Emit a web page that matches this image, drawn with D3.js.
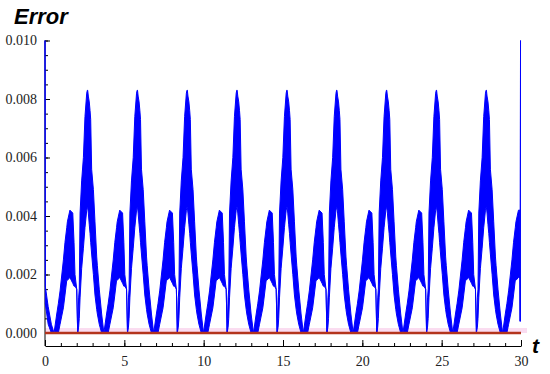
<!DOCTYPE html>
<html>
<head>
<meta charset="utf-8">
<script src="https://cdn.jsdelivr.net/npm/d3@7"></script>
<style>
    body { margin: 0; background: #fff; }
    svg { display: block; }
    .tick-label { font-family: 'Liberation Serif', serif; font-size: 14px; fill: #222; }
</style>
</head>
<body>
<svg width="550" height="374"></svg>
<script>
// Times where the error touches zero (bottom of each arch)
const cycleStart = [0.57, 3.71, 6.85, 9.99, 13.14, 16.28, 19.42, 22.56, 25.70, 28.84];

// Shape of one arch (small hump, dip, big hump), offsets from cycle start
const profileDt = [0, 0.17, 0.27, 0.38, 0.59, 0.69, 0.80, 0.84, 1.00, 1.18, 1.26, 1.32, 1.43, 1.49,
    1.55, 1.59, 1.64, 1.74, 1.85, 1.95, 2.06, 2.10, 2.12, 2.16, 2.22, 2.27, 2.31, 2.37, 2.48, 2.58,
    2.69, 2.73, 2.85, 3.00];
const profileHi = [0, 0.00065, 0.0010, 0.00144, 0.0025, 0.0031, 0.0036, 0.0038, 0.0042, 0.0041,
    0.0031, 0.0020, 0.0015, 0, 0.0012, 0.0015, 0.0041, 0.0052, 0.0060, 0.0074, 0.0082, 0.0083,
    0.0083, 0.0081, 0.0079, 0.0076, 0.0073, 0.0056, 0.0049, 0.0038, 0.0026, 0.0023, 0.0015, 0.00065];
const profileLo = [0, 0, 0, 0.0003, 0.00086, 0.0013, 0.0018, 0.0018, 0.0019, 0.0017,
    0.0016, 0.0016, 0.0015, 0, 0.0002, 0.0005, 0.0012, 0.0022, 0.0029, 0.0036, 0.0042, 0.0043,
    0.0043, 0.0041, 0.0037, 0.0034, 0.0031, 0.0027, 0.0020, 0.0013, 0.0008, 0.00065, 0.0003, 0];

// Start and end of the record
const headT = [0, 0.02, 0.2, 0.4];
const headHi = [0.0100, 0.0016, 0.0009, 0.0003];
const headLo = [0.0100, 0.0010, 0.0003, 0];
const tailT = [29.93, 29.95, 29.97];
const tailHi = [0.0042, 0.0004, 0.0100];
const tailLo = [0.0019, 0.0004, 0.0100];

const xMajor = [0, 5, 10, 15, 20, 25, 30];
const xMinor = d3.range(0, 31, 1);
const yMajor = [0, 0.002, 0.004, 0.006, 0.008, 0.010];
const yMinor = d3.range(0, 0.01001, 0.0005);

const svg = d3.select('svg');

const x = d3.scaleLinear().domain([0, 30]).range([45, 521]);
const y = d3.scaleLinear().domain([0, 0.010]).range([333, 40.5]);

// Assemble the band: upper and lower edge of the fast oscillation
let band = [];
headT.forEach((t, i) => band.push({t: t, hi: headHi[i], lo: headLo[i]}));
cycleStart.forEach(t0 =>
{
    profileDt.forEach((dt, j) =>
    {
        if (t0 + dt < tailT[0])
            band.push({t: t0 + dt, hi: profileHi[j], lo: profileLo[j]});
    });
});
tailT.forEach((t, i) => band.push({t: t, hi: tailHi[i], lo: tailLo[i]}));

// Reference line at zero
svg.append('rect')
    .attr('x', x(0))
    .attr('y', y(0) - 5)
    .attr('width', x(30) - x(0) + 6)
    .attr('height', 5)
    .attr('fill', '#fadcf0');

// Axes
const xAxisY = 346;
svg.append('g')
    .attr('transform', 'translate(0,' + xAxisY + ')')
    .call(d3.axisBottom(x).tickValues(xMinor).tickSize(-3).tickSizeOuter(0).tickFormat(''))
    .call(g => g.select('.domain').remove());

svg.append('g')
    .attr('transform', 'translate(0,' + xAxisY + ')')
    .call(d3.axisBottom(x).tickValues(xMajor).tickSize(-6).tickSizeOuter(0).tickPadding(10)
        .tickFormat(d3.format('d')))
    .call(g => g.selectAll('text').attr('class', 'tick-label').attr('font-size', null)
        .attr('font-family', null))
    .call(g => g.select('.domain').attr('stroke', '#000'));

svg.append('g')
    .attr('transform', 'translate(' + x(0) + ',0)')
    .call(d3.axisLeft(y).tickValues(yMinor).tickSize(-3).tickSizeOuter(0).tickFormat(''))
    .call(g => g.select('.domain').remove());

svg.append('g')
    .attr('transform', 'translate(' + x(0) + ',0)')
    .call(d3.axisLeft(y).tickValues(yMajor).tickSize(-5).tickSizeOuter(0).tickPadding(8)
        .tickFormat(d3.format('.3f')))
    .call(g => g.selectAll('text').attr('class', 'tick-label').attr('font-size', null)
        .attr('font-family', null))
    .call(g => g.select('.domain').attr('d', 'M0,' + xAxisY + 'V' + y(0.010)));

// Error band
const area = d3.area()
    .x(d => x(d.t))
    .y0(d => y(d.lo))
    .y1(d => y(d.hi));

svg.append('path')
    .datum(band)
    .attr('d', area)
    .attr('fill', '#0000ff')
    .attr('stroke', '#0000ff')
    .attr('stroke-width', 1)
    .attr('stroke-linejoin', 'round');

svg.append('line')
    .attr('x1', x(0))
    .attr('x2', x(30))
    .attr('y1', y(0))
    .attr('y2', y(0))
    .attr('stroke', '#b3341c')
    .attr('stroke-width', 2.6);

// Axis titles
svg.append('text')
    .attr('x', 14)
    .attr('y', 24)
    .style('font-family', 'Liberation Sans, Arial, sans-serif')
    .style('font-weight', 'bold')
    .style('font-style', 'italic')
    .style('font-size', '22px')
    .text('Error');

svg.append('text')
    .attr('x', 532)
    .attr('y', 353)
    .style('font-family', 'Liberation Sans, Arial, sans-serif')
    .style('font-weight', 'bold')
    .style('font-style', 'italic')
    .style('font-size', '21px')
    .text('t');
</script>
</body>
</html>
